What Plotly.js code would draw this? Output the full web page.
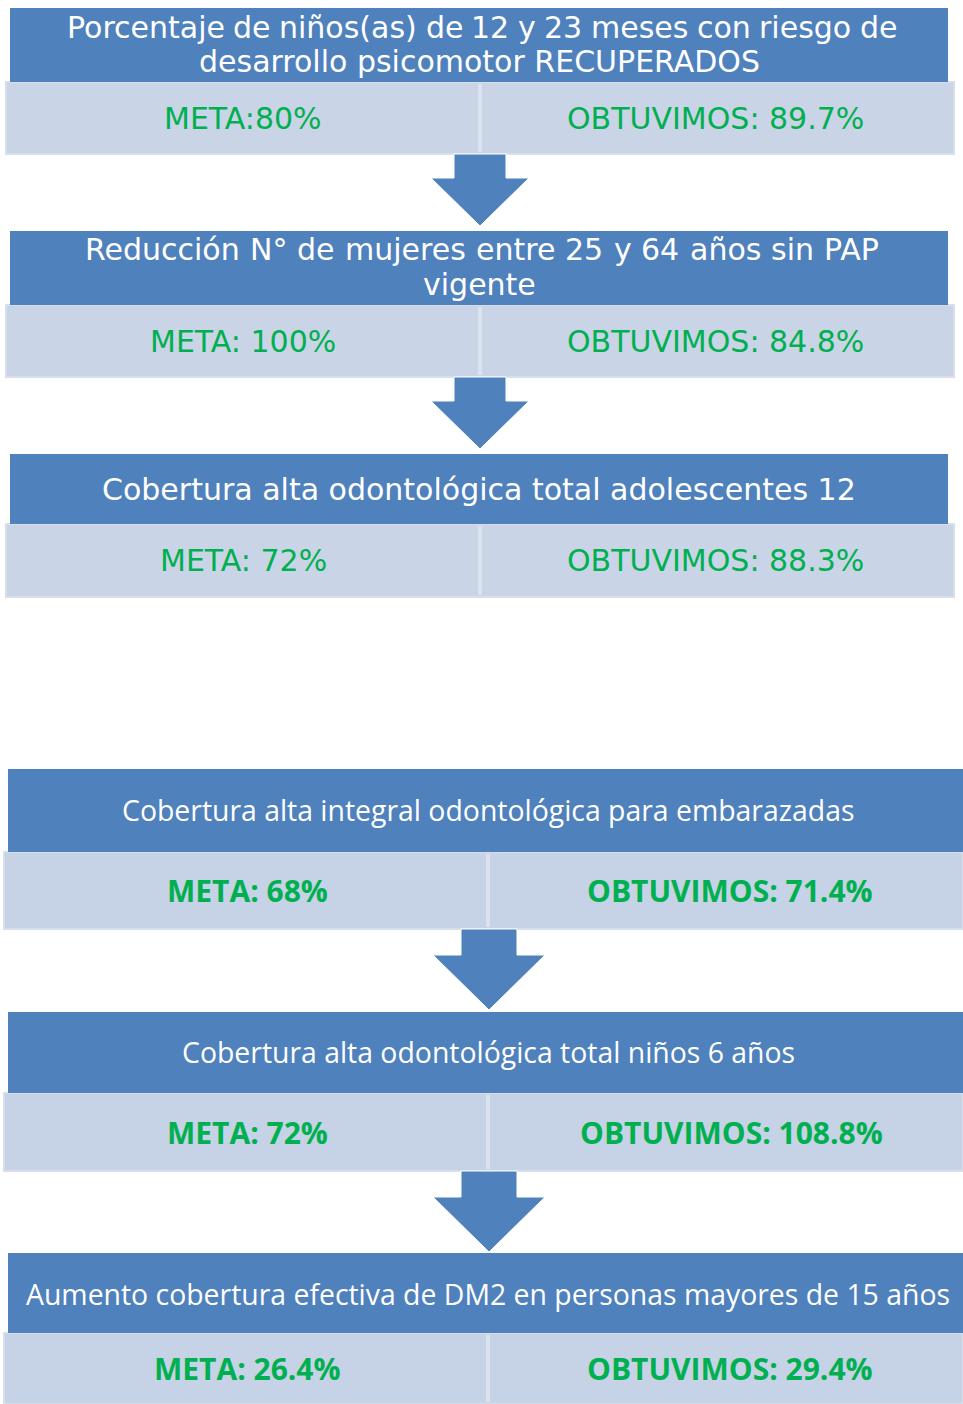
<!DOCTYPE html>
<html>
<head>
<meta charset="utf-8">
<script src="https://cdn.plot.ly/plotly-3.0.1.min.js"></script>
<style>html,body{margin:0;padding:0;background:#fff;}#chart{width:963px;height:1404px;}</style>
</head>
<body>
<div id="chart"></div>
<script>
// ---- Data ----
const indicadores = [
  ["Porcentaje de niños(as) de 12 y 23 meses con riesgo de", "desarrollo psicomotor RECUPERADOS"],
  ["Reducción N° de mujeres entre 25 y 64 años sin PAP", "vigente"],
  ["Cobertura alta odontológica total adolescentes 12"],
  ["Cobertura alta integral odontológica para embarazadas"],
  ["Cobertura alta odontológica total niños 6 años"],
  ["Aumento cobertura efectiva de DM2 en personas mayores de 15 años"]
];
const metaLabels = ["META:80%", "META: 100%", "META: 72%", "META: 68%", "META: 72%", "META: 26.4%"];
const obtuvimosLabels = ["OBTUVIMOS: 89.7%", "OBTUVIMOS: 84.8%", "OBTUVIMOS: 88.3%", "OBTUVIMOS: 71.4%", "OBTUVIMOS: 108.8%", "OBTUVIMOS: 29.4%"];

// ---- Layout geometry (pixels, y downward) ----
const BLUE = "#4F81BD", LIGHT_TOP = "#CAD4E7", LIGHT_BOT = "#C6D2E5", GREEN = "#00B050";
const blocks = [
  {hx0:10, hx1:948, hy0:8,    hy1:82,   lx0:6, lx1:954, ly1:154, div:480, grp:0, ty:[27,61],  just:[[65,895],null]},
  {hx0:10, hx1:948, hy0:231,  hy1:305,  lx0:6, lx1:954, ly1:377, div:480, grp:0, ty:[249,284], just:[[83,877],null]},
  {hx0:10, hx1:948, hy0:454,  hy1:524,  lx0:6, lx1:954, ly1:597, div:480, grp:0, ty:[489],   just:[null]},
  {hx0:8,  hx1:963, hy0:769,  hy1:852,  lx0:4, lx1:963, ly1:929, div:488, grp:1, ty:[810],   just:[null]},
  {hx0:8,  hx1:963, hy0:1012, hy1:1093, lx0:4, lx1:963, ly1:1171, div:488, grp:1, ty:[1052], just:[null]},
  {hx0:8,  hx1:963, hy0:1253, hy1:1333, lx0:4, lx1:963, ly1:1404, div:488, grp:1, ty:[1294], just:[null]}
];
const valueCenters = [[243,715],[243,715],[243,715],[247,730],[247,731],[247,730]];
const arrows = [
  {cx:480, y0:154, ys:178, y1:226, sw:26, hw:49},
  {cx:480, y0:377, ys:401, y1:449, sw:26, hw:49},
  {cx:489, y0:929, ys:955, y1:1010, sw:28, hw:56},
  {cx:489, y0:1171, ys:1197, y1:1252, sw:28, hw:56}
];

const shapes = [];
const annotations = [];
const fontTop = "'DejaVu Sans', sans-serif";
const fontBot = "'Open Sans', 'Noto Sans', sans-serif";
const topHeadSize = 30, topHeadWeight = 400;

const cnv = document.createElement("canvas").getContext("2d");
function measure(t, weight, size, family) {
  cnv.font = `${weight} ${size}px ${family}`;
  return cnv.measureText(t).width;
}

blocks.forEach((b, i) => {
  const light = b.grp === 0 ? LIGHT_TOP : LIGHT_BOT;
  shapes.push({type:"rect", xref:"x", yref:"y", x0:b.lx0, x1:b.lx1, y0:b.hy1, y1:b.ly1,
    fillcolor:light, line:{color:"#D8DFEC", width:2}, layer:"below"});
  shapes.push({type:"line", xref:"x", yref:"y", x0:b.div, x1:b.div, y0:b.hy1+2, y1:b.ly1-2,
    line:{color:"#DCE3EF", width:4}, layer:"below"});
  shapes.push({type:"rect", xref:"x", yref:"y", x0:b.hx0, x1:b.hx1, y0:b.hy0, y1:b.hy1,
    fillcolor:BLUE, line:{width:0}, layer:"below"});
  const hcx = b.grp === 0 ? 479 : 488;
  indicadores[i].forEach((t, k) => {
    const font = b.grp === 0
      ? {family:fontTop, size:topHeadSize, color:"#FFFFFF", weight:topHeadWeight}
      : {family:fontBot, size:28.4, color:"#FFFFFF"};
    const span = b.just[k];
    if (span) {
      const words = t.split(" ");
      const widths = words.map(w => measure(w, font.weight, font.size, "DejaVu Sans"));
      const total = widths.reduce((a, c) => a + c, 0);
      const gap = (span[1] - span[0] - total) / (words.length - 1);
      let x = span[0];
      words.forEach((w, j) => {
        annotations.push({xref:"x", yref:"y", x:x, y:b.ty[k], text:w, showarrow:false,
          xanchor:"left", yanchor:"middle", font:font});
        x += widths[j] + gap;
      });
    } else {
      annotations.push({xref:"x", yref:"y", x:hcx, y:b.ty[k], text:t, showarrow:false,
        xanchor:"center", yanchor:"middle", font:font});
    }
  });
  const vy = (b.hy1 + b.ly1) / 2;
  const vf = b.grp === 0 ? {family:fontTop, size:30, color:GREEN, weight:400}
                         : {family:fontBot, size:30, color:GREEN, weight:700};
  annotations.push({xref:"x", yref:"y", x:valueCenters[i][0], y:vy, text:metaLabels[i], showarrow:false,
    xanchor:"center", yanchor:"middle", font:vf});
  annotations.push({xref:"x", yref:"y", x:valueCenters[i][1], y:vy, text:obtuvimosLabels[i], showarrow:false,
    xanchor:"center", yanchor:"middle", font:vf});
});

arrows.forEach(a => {
  const p = `M ${a.cx-a.sw},${a.y0} L ${a.cx+a.sw},${a.y0} L ${a.cx+a.sw},${a.ys} L ${a.cx+a.hw},${a.ys} ` +
            `L ${a.cx},${a.y1} L ${a.cx-a.hw},${a.ys} L ${a.cx-a.sw},${a.ys} Z`;
  shapes.push({type:"path", xref:"x", yref:"y", path:p, fillcolor:BLUE, line:{color:"#FFFFFF", width:1}, layer:"below"});
});

const layout = {
  width:963, height:1404,
  margin:{l:0, r:0, t:0, b:0},
  paper_bgcolor:"#FFFFFF", plot_bgcolor:"#FFFFFF",
  xaxis:{range:[0,963], visible:false, fixedrange:true},
  yaxis:{range:[1404,0], visible:false, fixedrange:true},
  showlegend:false,
  shapes:shapes,
  annotations:annotations
};
Plotly.newPlot("chart", [{x:[], y:[], type:"scatter", mode:"markers", hoverinfo:"skip"}], layout, {displayModeBar:false, staticPlot:true});
</script>
</body>
</html>
